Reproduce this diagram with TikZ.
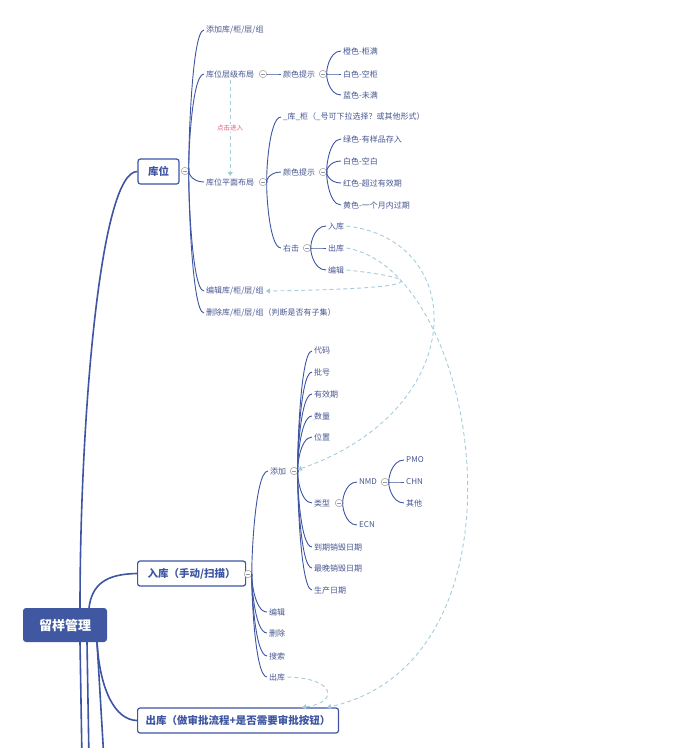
\documentclass[tikz,border=0pt]{standalone}
\usepackage{fontspec}
\setmainfont{Noto Sans CJK SC}
\usepackage{tikz}
\usetikzlibrary{positioning, arrows.meta, calc}

\definecolor{linkblue}{HTML}{3D55A2}
\definecolor{leaftext}{HTML}{465690}
\definecolor{rootfill}{HTML}{3F58A1}
\definecolor{dashblue}{HTML}{A4CCDC}
\definecolor{hintred}{HTML}{E2607A}
\definecolor{foldgrey}{HTML}{9A9A9A}

\tikzset{
    leaf/.style={anchor=west, inner sep=2pt, text=leaftext, font=\fontsize{8}{9.5}\selectfont},
    topic/.style={draw=linkblue, line width=1.2pt, fill=white, rounded corners=2.5pt,
        text=linkblue, font=\bfseries\fontsize{10.5}{12}\selectfont, minimum height=25pt, inner xsep=10pt},
    central/.style={fill=rootfill, rounded corners=3pt, text=white,
        font=\bfseries\fontsize{13}{15}\selectfont, minimum width=84pt, minimum height=34pt},
    fold/.style={circle, draw=foldgrey, fill=white, inner sep=0pt, minimum size=7.5pt, line width=0.5pt,
        path picture={\draw[foldgrey, line width=0.6pt]
            ([xshift=-2pt]path picture bounding box.center) -- ([xshift=2pt]path picture bounding box.center);}},
    branch/.style={draw=linkblue, line width=0.9pt,
        to path={.. controls ($(\tikztostart)!0.15!(\tikztostart -| \tikztotarget)$)
            and ($(\tikztostart |- \tikztotarget)!0.3!(\tikztotarget)$) .. (\tikztotarget) \tikztonodes}},
    trunk/.style={draw=linkblue, line width=1.6pt},
    link/.style={draw=dashblue, line width=0.9pt, dash pattern=on 4pt off 3pt,
        -{Triangle[width=5pt,length=4pt]}},
    hint/.style={fill=white, text=hintred, font=\fontsize{6.5}{8}\selectfont, inner sep=1pt}
}

\begin{document}
\begin{tikzpicture}[x=1pt, y=-1pt]
    \useasboundingbox (0,0) rectangle (692,748);

    % CENTRAL TOPIC
    \node[central] (root) at (65,625) {留样管理};

    % MAIN TOPICS
    \node[topic] (kw) at (158.5,171.5) {库位};
    \node[topic, anchor=west] (rk) at (137,573.5) {入库（手动/扫描）};
    \node[topic, anchor=west, inner xsep=8pt] (ck) at (137,720.5) {出库（做审批流程+是否需要审批按钮）};

    % ROOT BRANCHES
    \coordinate (off1) at (82,760);
    \coordinate (off2) at (89,760);
    \coordinate (off3) at (104,760);
    \draw[trunk] ([xshift=15pt]root.north) .. controls (80,420) and (100,171) .. (kw.west);
    \draw[trunk] ([xshift=24pt]root.north) .. controls (92,585) and (105,574) .. (rk.west);
    \draw[trunk] ([xshift=32pt]root.south) .. controls (100,690) and (115,720) .. (ck.west);
    \draw[trunk] ([xshift=15pt]root.south) -- (off1);
    \draw[trunk] ([xshift=22pt]root.south) -- (off2);
    \draw[trunk] ([xshift=32pt]root.south) -- (off3);

    % KUWEI
    \node[leaf] (kw1) at (204,30) {添加库/柜/层/组};
    \node[leaf] (cj) at (204,74) {库位层级布局};
    \node[leaf] (pm) at (204,182) {库位平面布局};
    \node[leaf] (kw4) at (204,291) {编辑库/柜/层/组};
    \node[leaf] (kw5) at (204,313) {删除库/柜/层/组（判断是否有子集）};

    \node[leaf] (cjys) at (281,74) {颜色提示};
    \node[leaf] (cjc1) at (341,51) {橙色-柜满};
    \node[leaf] (cjc2) at (341,74) {白色-空柜};
    \node[leaf] (cjc3) at (341,95) {蓝色-未满};

    \node[leaf] (pmg) at (281,117) {\_库\_柜（\_号可下拉选择？或其他形式）};
    \node[leaf] (pmys) at (281,172) {颜色提示};
    \node[leaf] (pmc1) at (341,139) {绿色-有样品存入};
    \node[leaf] (pmc2) at (341,161) {白色-空白};
    \node[leaf] (pmc3) at (341,183) {红色-超过有效期};
    \node[leaf] (pmc4) at (341,205) {黄色-一个月内过期};
    \node[leaf] (yj) at (281,248) {右击};
    \node[leaf] (yj1) at (326,226) {入库};
    \node[leaf] (yj2) at (326,248) {出库};
    \node[leaf] (yj3) at (326,270) {编辑};

    % RUKU
    \node[leaf] (tj) at (268,471) {添加};
    \node[leaf] (tj1) at (312,351) {代码};
    \node[leaf] (tj2) at (312,372) {批号};
    \node[leaf] (tj3) at (312,394) {有效期};
    \node[leaf] (tj4) at (312,416) {数量};
    \node[leaf] (tj5) at (312,437) {位置};
    \node[leaf] (lx) at (312,503) {类型};
    \node[leaf] (nmd) at (357,482) {NMD};
    \node[leaf] (pmo) at (404,460) {PMO};
    \node[leaf] (chn) at (404,482) {CHN};
    \node[leaf] (qt) at (404,503) {其他};
    \node[leaf] (ecn) at (357,525) {ECN};
    \node[leaf] (tj6) at (312,547) {到期销毁日期};
    \node[leaf] (tj7) at (312,568) {最晚销毁日期};
    \node[leaf] (tj8) at (312,590) {生产日期};
    \node[leaf] (rk1) at (267,612) {编辑};
    \node[leaf] (rk2) at (267,633) {删除};
    \node[leaf] (rk3) at (267,656) {搜索};
    \node[leaf] (rk4) at (267,677) {出库};

    % FOLD MARKS
    \node[fold] (kwf) at (185,171) {};
    \node[fold] (cjf) at (263,74) {};
    \node[fold] (cjysf) at (323,74) {};
    \node[fold] (pmf) at (263,182) {};
    \node[fold] (pmysf) at (323,172) {};
    \node[fold] (yjf) at (307,248) {};
    \node[fold] (rkf) at (248,574) {};
    \node[fold] (tjf) at (294,471) {};
    \node[fold] (lxf) at (339,503) {};
    \node[fold] (nmdf) at (385,482) {};

    % BRANCHES
    \path[branch]
        (kwf) edge (kw1.west) edge (cj.west) edge (pm.west) edge (kw4.west) edge (kw5.west)
        (cjf) edge (cjys.west)
        (cjysf) edge (cjc1.west) edge (cjc2.west) edge (cjc3.west)
        (pmf) edge (pmg.west) edge (pmys.west) edge (yj.west)
        (pmysf) edge (pmc1.west) edge (pmc2.west) edge (pmc3.west) edge (pmc4.west)
        (yjf) edge (yj1.west) edge (yj2.west) edge (yj3.west)
        (rkf) edge (tj.west) edge (rk1.west) edge (rk2.west) edge (rk3.west) edge (rk4.west)
        (tjf) edge (tj1.west) edge (tj2.west) edge (tj3.west) edge (tj4.west) edge (tj5.west)
            edge (lx.west) edge (tj6.west) edge (tj7.west) edge (tj8.west)
        (lxf) edge (nmd.west) edge (ecn.west)
        (nmdf) edge (pmo.west) edge (chn.west) edge (qt.west);

    % RELATIONS
    \draw[link] (cj.south) -- node[hint] {点击进入} (pm.north);
    \draw[link] (yj3.east) .. controls (395,275) and (470,288) .. (kw4.east);
    \draw[link] (yj1.east) .. controls (470,240) and (470,410) .. (tjf);
    \draw[link] (yj2.east) .. controls (480,270) and (540,660) .. ([xshift=-12pt]ck.north east);
    \draw[link] (rk4.east) .. controls (335,678) and (340,702) .. ([xshift=-37pt]ck.north east);

\end{tikzpicture}
\end{document}
